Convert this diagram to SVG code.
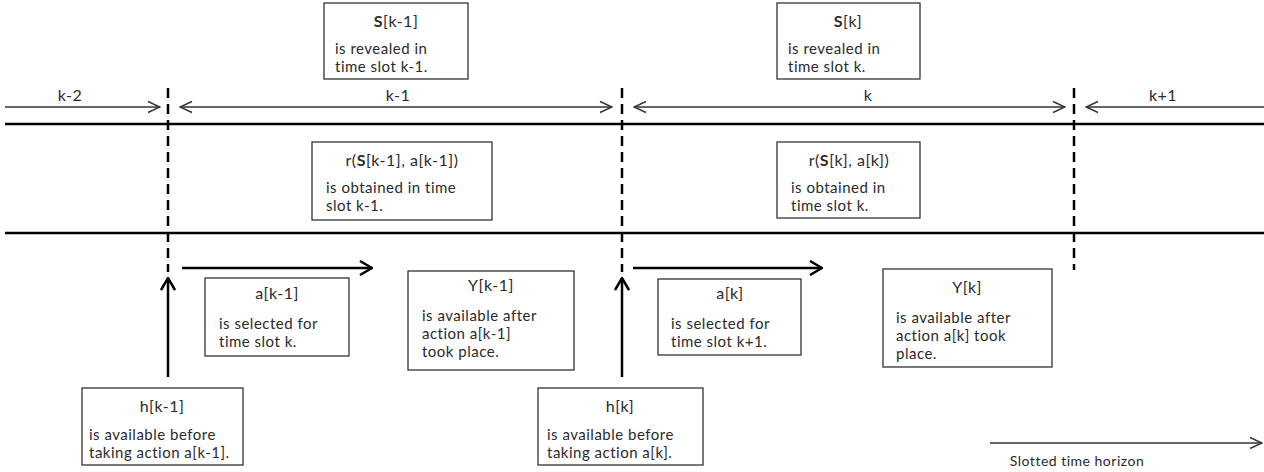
<svg xmlns="http://www.w3.org/2000/svg" width="1264" height="472" viewBox="0 0 1264 472">
<style>
.bg{fill:#fff}
.box{fill:#fff;stroke:#333;stroke-width:1.3}
.t{font-family:Lato,"Open Sans","Liberation Sans",sans-serif;font-size:15px;fill:#2a2a2a;letter-spacing:0.5px}
.h{font-size:16px}
.c{text-anchor:middle}
.thin{stroke:#333;stroke-width:1.3;fill:none}
.thick{stroke:#000;stroke-width:2.5;fill:none}
.dash{stroke:#000;stroke-width:2.5;stroke-dasharray:10 6;fill:none}
</style>
<defs>
<marker id="ht" markerUnits="userSpaceOnUse" viewBox="0 0 14 14" refX="13" refY="7" markerWidth="14" markerHeight="14" orient="auto-start-reverse">
<path d="M1,1.5 L13,7 L1,12.5" fill="none" stroke="#333" stroke-width="1.4"/>
</marker>
<marker id="hk" markerUnits="userSpaceOnUse" viewBox="0 0 14 16" refX="13" refY="8" markerWidth="14" markerHeight="16" orient="auto-start-reverse">
<path d="M1,1 L13,8 L1,15" fill="none" stroke="#000" stroke-width="2.5"/>
</marker>
</defs>
<rect class="bg" x="0" y="0" width="1264" height="472"/>
<g id="connectors">
<line class="thin" x1="5" y1="107" x2="160" y2="107" marker-end="url(#ht)"/>
<line class="thin" x1="180" y1="107" x2="612" y2="107" marker-start="url(#ht)" marker-end="url(#ht)"/>
<line class="thin" x1="634" y1="107" x2="1065" y2="107" marker-start="url(#ht)" marker-end="url(#ht)"/>
<line class="thin" x1="1086" y1="107" x2="1264" y2="107" marker-start="url(#ht)"/>
<line class="thick" x1="5" y1="124" x2="1264" y2="124"/>
<line class="thick" x1="5" y1="233" x2="1264" y2="233"/>
<line class="dash" x1="168" y1="88" x2="168" y2="272"/>
<line class="dash" x1="622" y1="88" x2="622" y2="272"/>
<line class="dash" x1="1074" y1="88" x2="1074" y2="270"/>
<line class="thick" x1="182" y1="268" x2="372" y2="268" marker-end="url(#hk)"/>
<line class="thick" x1="633" y1="268" x2="822" y2="268" marker-end="url(#hk)"/>
<line class="thick" x1="168" y1="377" x2="168" y2="278" marker-end="url(#hk)"/>
<line class="thick" x1="622" y1="377" x2="622" y2="278" marker-end="url(#hk)"/>
<line class="thin" x1="990" y1="443" x2="1262" y2="443" marker-end="url(#ht)"/>
</g>
<g id="slot-labels">
<text class="t h c" x="70" y="101">k-2</text>
<text class="t h c" x="398" y="101">k-1</text>
<text class="t h c" x="868" y="101">k</text>
<text class="t h c" x="1163" y="101">k+1</text>
<text class="t c" x="1077" y="466" style="font-size:14px">Slotted time horizon</text>
</g>
<g id="S-k-1">
<rect class="box" x="324" y="3" width="144" height="76"/>
<text class="t h c" x="396" y="27"><tspan font-weight="bold">S</tspan>[k-1]</text>
<text class="t" x="335" y="54">is revealed in</text>
<text class="t" x="335" y="72">time slot k-1.</text>
</g>
<g id="S-k">
<rect class="box" x="777" y="3" width="143" height="76"/>
<text class="t h c" x="848" y="27"><tspan font-weight="bold">S</tspan>[k]</text>
<text class="t" x="788" y="54">is revealed in</text>
<text class="t" x="788" y="72">time slot k.</text>
</g>
<g id="r-k-1">
<rect class="box" x="312" y="142" width="180" height="78"/>
<text class="t h c" x="402" y="166">r(<tspan font-weight="bold">S</tspan>[k-1], a[k-1])</text>
<text class="t" x="326" y="193">is obtained in time</text>
<text class="t" x="326" y="211">slot k-1.</text>
</g>
<g id="r-k">
<rect class="box" x="777" y="142" width="143" height="76"/>
<text class="t h c" x="849" y="166">r(<tspan font-weight="bold">S</tspan>[k], a[k])</text>
<text class="t" x="791" y="193">is obtained in</text>
<text class="t" x="791" y="211">time slot k.</text>
</g>
<g id="a-k-1">
<rect class="box" x="205" y="278" width="144" height="78"/>
<text class="t h c" x="277" y="299">a[k-1]</text>
<text class="t" x="219" y="329">is selected for</text>
<text class="t" x="219" y="347">time slot k.</text>
</g>
<g id="Y-k-1">
<rect class="box" x="408" y="271" width="166" height="99"/>
<text class="t h c" x="491" y="291">Y[k-1]</text>
<text class="t" x="422" y="321">is available after</text>
<text class="t" x="422" y="339">action a[k-1]</text>
<text class="t" x="422" y="357">took place.</text>
</g>
<g id="a-k">
<rect class="box" x="658" y="279" width="143" height="76"/>
<text class="t h c" x="730" y="299">a[k]</text>
<text class="t" x="671" y="329">is selected for</text>
<text class="t" x="671" y="347">time slot k+1.</text>
</g>
<g id="Y-k">
<rect class="box" x="883" y="269" width="169" height="98"/>
<text class="t h c" x="967" y="293">Y[k]</text>
<text class="t" x="896" y="323">is available after</text>
<text class="t" x="896" y="341">action a[k] took</text>
<text class="t" x="896" y="359">place.</text>
</g>
<g id="h-k-1">
<rect class="box" x="82" y="388" width="161" height="77"/>
<text class="t h c" x="162" y="412">h[k-1]</text>
<text class="t" x="89" y="440">is available before</text>
<text class="t" x="89" y="458">taking action a[k-1].</text>
</g>
<g id="h-k">
<rect class="box" x="538" y="388" width="165" height="77"/>
<text class="t h c" x="620" y="412">h[k]</text>
<text class="t" x="547" y="440">is available before</text>
<text class="t" x="547" y="458">taking action a[k].</text>
</g>
</svg>
